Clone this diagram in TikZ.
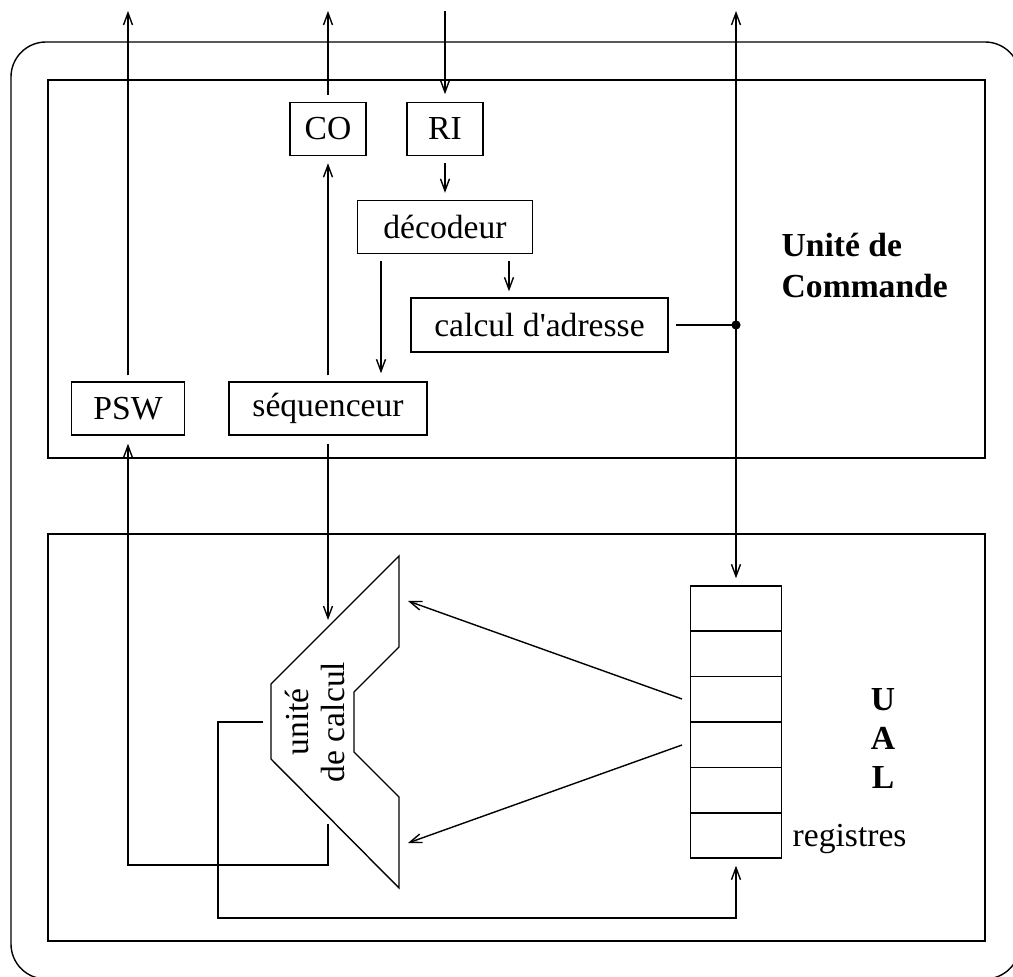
\documentclass[tikz,border=0pt]{standalone}
\usepackage{fontspec}
\setmainfont{Liberation Serif}
\usetikzlibrary{arrows.meta,calc}
\begin{document}
\begin{tikzpicture}[x=0.5pt,y=-0.5pt,line width=0.7pt,
  txt/.style={font=\fontsize{16.8}{20}\selectfont},
  bold/.style={font=\fontsize{16.8}{20}\selectfont\bfseries,inner sep=0pt},
  box/.style={draw,txt,inner sep=0pt,minimum height=26.5pt},
  arr/.style={-{Straight Barb[length=6pt,width=4.5pt]}},
  darr/.style={{Straight Barb[length=6pt,width=4.5pt]}-{Straight Barb[length=6pt,width=4.5pt]}}]
\useasboundingbox (0,0) rectangle (1013,977);
\clip (0,0) rectangle (1013,977);

% processor outline and the two units
\draw[rounded corners=17.5pt] (11,42) rectangle (1020,979);
\draw (48,80) rectangle (985,458);
\draw (48,534) rectangle (985,941);

% control unit
\node[box,minimum width=38pt] (co) at (328,129) {CO};
\node[box,minimum width=38pt] (ri) at (445,129) {RI};
\node[box,minimum width=87.5pt] (dec) at (445,227) {décodeur};
\node[box,minimum width=128.5pt,minimum height=27pt] (adr) at (539.5,325) {calcul d\textquotesingle adresse};
\node[box,minimum width=99pt] (seq) at (328,408.5) {séquenceur};
\node[box,minimum width=56.5pt] (psw) at (128,408.5) {PSW};
\node[bold,anchor=base west] (uc1) at (781,257) {Unité de};
\node[bold,anchor=base west] (uc2) at (781,298) {Commande};

% arithmetic and logic unit
\draw (399,556) -- (399,647) -- (354,692) -- (354,752) -- (399,797)
  -- (399,888) -- (271,759) -- (271,684) -- cycle;
\node[txt,rotate=90,align=center,font=\fontsize{16.8}{18}\selectfont] (alu) at (315,722) {unité\\de calcul};
\node[draw,inner sep=0pt,minimum width=45.5pt,minimum height=136pt] (reg) at (736,722) {};
\foreach \k in {1,...,5}
  \draw ($(reg.north west)!\k/6!(reg.south west)$) -- ($(reg.north east)!\k/6!(reg.south east)$);
\node[txt,inner sep=0pt,anchor=base west] (regl) at (792,847) {registres};
\node[bold,anchor=base] (lu) at (883,711) {U};
\node[bold,anchor=base] (la) at (883,750) {A};
\node[bold,anchor=base] (ll) at (883,789) {L};

% connection points
\coordinate (tp) at (128,11);
\coordinate (tc) at (328,11);
\coordinate (tr) at (445,11);
\coordinate (ta) at (736,11);
\coordinate (j) at (reg.north |- adr.east);
\coordinate (aluin) at (328,620);
\coordinate (aluflag) at (328,824);
\coordinate (c1) at (328,865);
\coordinate (aluout) at (263,722);
\coordinate (c2) at (218,918);
\coordinate (aluA) at (408,601);
\coordinate (aluB) at (408,843);
\coordinate (rA) at (682,699);
\coordinate (rB) at (682,745);

% connectors
\draw[arr,shorten <=3pt] (psw) -- (tp);
\draw[arr,shorten <=3pt,shorten >=3.5pt] (seq) -- (co);
\draw[arr,shorten <=3.5pt] (co) -- (tc);
\draw[arr,shorten >=3.8pt] (tr) -- (ri);
\draw[arr,shorten <=3.5pt,shorten >=3.5pt] (ri) -- (dec);
\draw[arr,shorten <=3.5pt,shorten >=3pt] ([xshift=32pt]dec.south) -- ([xshift=32pt]dec.south |- adr.north);
\draw[arr,shorten <=3.5pt,shorten >=4pt] ([xshift=-32pt]dec.south) -- ([xshift=-32pt]dec.south |- seq.north);
\draw[darr,shorten >=3.5pt] (ta) -- (reg);
\draw[shorten <=3.5pt] (adr) -- (j);
\fill (j) circle (2.3pt);
\draw[arr,shorten <=4pt] (seq) -- (aluin);
\draw[arr,shorten >=4pt] (aluflag) -- (c1) -| (psw);
\draw[arr,shorten >=3.5pt] (aluout) -| (c2) -| (reg);
\draw[arr] (rA) -- (aluA);
\draw[arr] (rB) -- (aluB);
\end{tikzpicture}
\end{document}
